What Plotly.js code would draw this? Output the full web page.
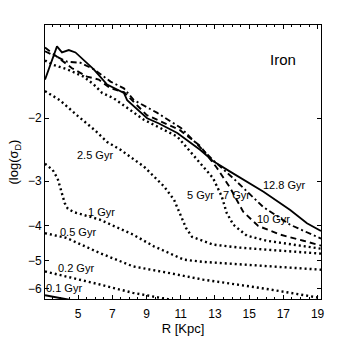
<!DOCTYPE html>
<html lang="en">
<head>
  <meta charset="UTF-8">
  <title>Iron - log surface density vs radius</title>
  <script src="https://cdn.plot.ly/plotly-3.0.1.min.js"></script>
  <style>
    body { margin: 0; background: #fff; }
    #plot { width: 354px; height: 338px; }
  </style>
</head>
<body>
  <div id="plot"></div>

  <script>
    // radius [Kpc] and log(sigma_D), one pair of arrays per age
    const r128 = [3.07, 3.77, 4.06, 4.46, 4.85, 5.92, 6.70, 7.68, 7.87, 9.04, 9.73, 10.80, 12.13, 12.91, 13.89, 15.84, 17.40, 18.38, 19.2];
    const y128 = [-1.56, -1.26, -1.31, -1.29, -1.31, -1.46, -1.61, -1.70, -1.78, -2.00, -2.07, -2.20, -2.45, -2.64, -2.82, -3.21, -3.61, -3.93, -4.13];

    const r10 = [3.07, 3.68, 4.36, 5.14, 5.92, 6.90, 7.68, 8.26, 9.61, 11.02, 12.89, 14.06, 15.82, 17.40, 19.2];
    const y10 = [-1.30, -1.34, -1.39, -1.40, -1.46, -1.58, -1.65, -1.78, -1.93, -2.13, -2.62, -2.94, -3.54, -3.97, -4.34];

    const r7 = [3.07, 3.77, 4.65, 5.53, 6.21, 6.90, 7.68, 9.02, 10.96, 12.13, 13.11, 13.89, 14.65, 15.53, 16.82, 18.17, 19.2];
    const y7 = [-1.27, -1.35, -1.45, -1.53, -1.56, -1.65, -1.69, -1.96, -2.16, -2.39, -2.75, -3.13, -3.65, -4.00, -4.23, -4.40, -4.54];

    const r5 = [3.07, 3.58, 4.36, 5.33, 5.92, 6.41, 7.09, 8.85, 10.80, 12.01, 12.89, 13.40, 13.69, 14.08, 14.87, 16.04, 19.2];
    const y5 = [-1.38, -1.42, -1.46, -1.53, -1.61, -1.70, -1.76, -2.02, -2.25, -2.62, -2.94, -3.31, -3.68, -3.97, -4.26, -4.40, -4.63];

    const r25 = [3.07, 3.93, 4.98, 5.98, 6.70, 7.48, 8.85, 10.02, 10.61, 11.00, 11.31, 11.66, 12.89, 14.47, 16.82, 19.2];
    const y25 = [-1.68, -1.78, -1.97, -2.16, -2.33, -2.45, -2.73, -3.10, -3.38, -3.72, -4.05, -4.29, -4.51, -4.60, -4.69, -4.78];

    const r1 = [3.07, 3.52, 3.81, 4.05, 4.22, 4.40, 4.75, 6.27, 8.22, 9.43, 11.19, 12.31, 14.28, 16.23, 19.2];
    const y1 = [-2.68, -2.79, -2.95, -3.21, -3.45, -3.58, -3.66, -3.84, -4.23, -4.56, -4.97, -5.04, -5.12, -5.20, -5.30];

    const r05 = [3.07, 4.32, 6.27, 8.22, 10.37, 12.31, 14.28, 16.23, 19.2];
    const y05 = [-4.19, -4.32, -4.76, -5.19, -5.42, -5.65, -5.83, -6.02, -6.36];

    const r02 = [3.07, 4.98, 6.27, 8.20, 9.79, 10.72];
    const y02 = [-5.36, -5.62, -5.83, -6.15, -6.36, -6.47];

    const r01 = [3.07, 4.63];
    const y01 = [-6.25, -6.45];

    const yTicks = [-2, -3, -4, -5, -6];
    const xTicks = [5, 7, 9, 11, 13, 15, 17, 19];

    // the y axis is logarithmic in |log(sigma)|, growing downwards
    const mag = arr => arr.map(v => -v);

    function curve(r, y, dash, width) {
      return {
        x: r, y: mag(y), type: 'scatter', mode: 'lines',
        line: { color: 'black', width: width, dash: dash },
        showlegend: false, hoverinfo: 'skip'
      };
    }

    const dots = '2px,3px';
    const traces = [
      curve(r128, y128, 'solid', 1.8),
      curve(r10, y10, '6px,3px,2px,3px', 1.9),
      curve(r7, y7, '6px,4px', 1.9),
      curve(r5, y5, dots, 2.4),
      curve(r25, y25, dots, 2.4),
      curve(r1, y1, dots, 2.4),
      curve(r05, y05, dots, 2.4),
      curve(r02, y02, dots, 2.4),
      curve(r01, y01, 'solid', 2)
    ];

    const font = 'Liberation Sans Narrow, Liberation Sans, Arial, sans-serif';

    function label(text, x, y, size) {
      return {
        text: text, x: x, y: Math.log10(-y), xref: 'x', yref: 'y',
        showarrow: false, xanchor: 'center', yanchor: 'middle',
        font: { family: font, size: size || 11, color: 'black' }
      };
    }

    const annotations = [
      label('Iron', 16.96, -1.375, 15),
      label('12.8 Gyr', 17.05, -3.07),
      label('10 Gyr', 16.41, -3.82),
      label('7 Gyr', 14.24, -3.27),
      label('5 Gyr', 12.13, -3.27),
      label('2.5 Gyr', 6.01, -2.53),
      label('1 Gyr', 6.36, -3.65),
      label('0.5 Gyr', 4.98, -4.15),
      label('0.2 Gyr', 4.89, -5.23),
      label('0.1 Gyr', 4.18, -5.97)
    ];

    const layout = {
      width: 354, height: 338,
      margin: { l: 45, r: 33, t: 25, b: 39 },
      paper_bgcolor: 'white', plot_bgcolor: 'white',
      font: { family: font, size: 12, color: 'black' },
      xaxis: {
        range: [3.07, 19.2],
        tickvals: xTicks,
        ticks: 'inside', ticklen: 4, tickcolor: 'black',
        minor: { dtick: 0.5, ticks: 'inside', ticklen: 2, tickcolor: 'black' },
        showline: true, linecolor: 'black', linewidth: 1, mirror: 'allticks',
        showgrid: false, zeroline: false,
        tickfont: { size: 12 }, ticklabelstandoff: 4,
        title: { text: 'R [Kpc]', font: { size: 13 }, standoff: 0 }
      },
      yaxis: {
        type: 'log',
        range: [Math.log10(6.40), Math.log10(1.098)],
        tickvals: mag(yTicks),
        ticktext: yTicks.map(v => '\u2212' + Math.abs(v)),
        ticks: 'inside', ticklen: 4, tickcolor: 'black',
        showline: true, linecolor: 'black', linewidth: 1, mirror: 'allticks',
        showgrid: false, zeroline: false,
        tickfont: { size: 12 },
        title: { text: '(log(\u03c3<sub>D</sub>)', font: { size: 13 }, standoff: 6 }
      },
      annotations: annotations
    };

    Plotly.newPlot('plot', traces, layout, { staticPlot: true, displayModeBar: false });
  </script>
</body>
</html>
